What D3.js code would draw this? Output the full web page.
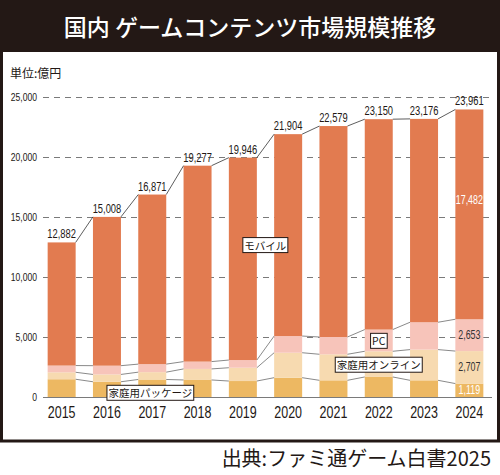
<!DOCTYPE html>
<html>
<head>
<meta charset="utf-8">
<script src="https://cdn.jsdelivr.net/npm/d3@7"></script>
<style>
  body { margin: 0; background: #fff; }
  svg { display: block; }
</style>
</head>
<body>
<div id="chart"></div>
<script>
var years = ["2015","2016","2017","2018","2019","2020","2021","2022","2023","2024"];
var totals = [12882, 15008, 16871, 19277, 19946, 21904, 22579, 23150, 23176, 23961];
var packageVals = [1480, 1270, 1460, 1420, 1330, 1610, 1390, 1670, 1390, 1119];
var onlineVals = [580, 610, 610, 920, 1110, 2080, 2170, 2140, 2560, 2707];
var pcVals = [560, 730, 670, 610, 640, 1390, 1440, 1810, 2280, 2653];
var mobileVals = totals.map(function(t, i){ return t - packageVals[i] - onlineVals[i] - pcVals[i]; });
var yTicks = [0, 5000, 10000, 15000, 20000, 25000];

var width = 500, height = 475;
var dark = "#231815";
var numFont = "'Liberation Sans',Arial,sans-serif";
var jpFont = "'Noto Sans CJK JP',sans-serif";
var squeeze = 0.78; // condensed look for the figures

var series = [
  {key:"package", name:"家庭用パッケージ", values:packageVals, color:"#edb862"},
  {key:"online", name:"家庭用オンライン", values:onlineVals, color:"#f7dab0"},
  {key:"pc", name:"PC", values:pcVals, color:"#f7c4ba"},
  {key:"mobile", name:"モバイル", values:mobileVals, color:"#e27b50"}
];

var rows = years.map(function(y, i){
  var r = {year:y};
  series.forEach(function(s){ r[s.key] = s.values[i]; });
  return r;
});
var stacked = d3.stack().keys(series.map(function(s){ return s.key; }))(rows);

var svg = d3.select("#chart").append("svg")
    .attr("width", width)
    .attr("height", height);

// narrow number text
function numText(parent, tx, ty, str, size, color, anchor, sx){
  return parent.append("text")
      .attr("transform", "translate(" + tx + "," + ty + ") scale(" + (sx || squeeze) + ",1)")
      .attr("text-anchor", anchor || "middle")
      .attr("fill", color)
      .style("font-family", numFont)
      .style("font-size", size + "px")
      .text(str);
}

// frame + title band
svg.append("rect")
    .attr("x", 1.5).attr("y", 0)
    .attr("width", width - 3).attr("height", 441)
    .attr("fill", "#fff")
    .attr("stroke", dark)
    .attr("stroke-width", 3);
svg.append("rect")
    .attr("x", 0).attr("y", 0)
    .attr("width", width).attr("height", 52)
    .attr("fill", dark);
svg.append("text")
    .attr("x", width / 2).attr("y", 36)
    .attr("text-anchor", "middle")
    .attr("fill", "#fff")
    .style("font-family", jpFont)
    .style("font-size", "23px")
    .style("font-weight", "500")
    .text("国内 ゲームコンテンツ市場規模推移");

svg.append("text")
    .attr("x", 10).attr("y", 78)
    .attr("fill", dark)
    .style("font-family", jpFont)
    .style("font-size", "12px")
    .text("単位:億円");

var x = d3.scaleBand()
    .domain(years)
    .range([39, 492])
    .paddingInner(0.382)
    .paddingOuter(0.191);

var y = d3.scaleLinear()
    .domain([0, 25000])
    .range([397, 97]);

// grid lines
var grid = svg.append("g")
    .attr("transform", "translate(43,0)")
    .call(d3.axisLeft(y).tickValues(yTicks).tickSize(-449).tickFormat(""));
grid.select(".domain").remove();
grid.selectAll(".tick line")
    .attr("stroke", "#7a7a7a")
    .attr("stroke-width", 1)
    .attr("stroke-dasharray", function(d){ return d === 0 ? null : "6,5"; });

// y labels
var yl = svg.append("g");
yTicks.forEach(function(t){
  numText(yl, 37, y(t) + 4, d3.format(",")(t), 11, dark, "end");
});

// bars
svg.append("g")
  .selectAll("g")
  .data(stacked)
  .enter()
  .append("g")
    .attr("fill", function(d, i){ return series[i].color; })
  .selectAll("rect")
  .data(function(d){ return d; })
  .enter()
  .append("rect")
    .attr("x", function(d){ return x(d.data.year); })
    .attr("y", function(d){ return y(d[1]); })
    .attr("width", x.bandwidth())
    .attr("height", function(d){ return y(d[0]) - y(d[1]); });

// connector lines between bars
var conn = svg.append("g").attr("fill", "none");
stacked.forEach(function(layer, li){
  for (var i = 0; i < years.length - 1; i++) {
    conn.append("line")
        .attr("x1", x(years[i]) + x.bandwidth())
        .attr("y1", y(layer[i][1]))
        .attr("x2", x(years[i + 1]))
        .attr("y2", y(layer[i + 1][1]))
        .attr("stroke", li === stacked.length - 1 ? "#333" : "#8a8a8a")
        .attr("stroke-width", li === stacked.length - 1 ? 0.8 : 1);
  }
});

// totals
var tl = svg.append("g");
totals.forEach(function(d, i){
  numText(tl, x(years[i]) + x.bandwidth() / 2, y(d) - 4, d3.format(",")(d), 12, dark);
});

// year labels
var xl = svg.append("g");
years.forEach(function(d){
  numText(xl, x(d) + x.bandwidth() / 2, 418, d, 16, dark);
});

// 2024 segment values
var last = years.length - 1;
var segLabelColor = {package:"#fff", online:"#333", pc:"#333", mobile:"#fff"};
stacked.forEach(function(layer, li){
  var s = series[li];
  var d = layer[last];
  var mid = s.key === "mobile" ? d[0] + (d[1] - d[0]) * 0.57 : (d[0] + d[1]) / 2;
  numText(svg, x(years[last]) + x.bandwidth() / 2, y(mid) + 4,
      d3.format(",")(s.values[last]), 12, segLabelColor[s.key], "middle", 0.74);
});

// series name boxes
var nameLabels = [
  {name:"モバイル", year:"2019", value:12600, align:"start"},
  {name:"PC", year:"2022", value:4620, align:"middle"},
  {name:"家庭用オンライン", year:"2022", value:2630, align:"middle"},
  {name:"家庭用パッケージ", year:"2016", value:290, align:"start"}
];
nameLabels.forEach(function(l){
  var cx = x(l.year) + x.bandwidth() / 2;
  var g = svg.append("g");
  var t = g.append("text")
      .attr("x", l.align === "start" ? cx + 1.5 : cx)
      .attr("y", y(l.value))
      .attr("dy", "0.36em")
      .attr("text-anchor", l.align)
      .attr("fill", dark)
      .style("font-family", jpFont)
      .style("font-size", "10.5px")
      .text(l.name);
  var bb = t.node().getBBox();
  g.insert("rect", "text")
      .attr("x", bb.x - 1.5)
      .attr("y", bb.y)
      .attr("width", bb.width + 3)
      .attr("height", bb.height)
      .attr("fill", "#fff")
      .attr("stroke", dark)
      .attr("stroke-width", 1);
});

// source
svg.append("text")
    .attr("x", 491).attr("y", 466)
    .attr("text-anchor", "end")
    .attr("fill", dark)
    .style("font-family", jpFont)
    .style("font-size", "20px")
    .text("出典:ファミ通ゲーム白書2025");
</script>
</body>
</html>
